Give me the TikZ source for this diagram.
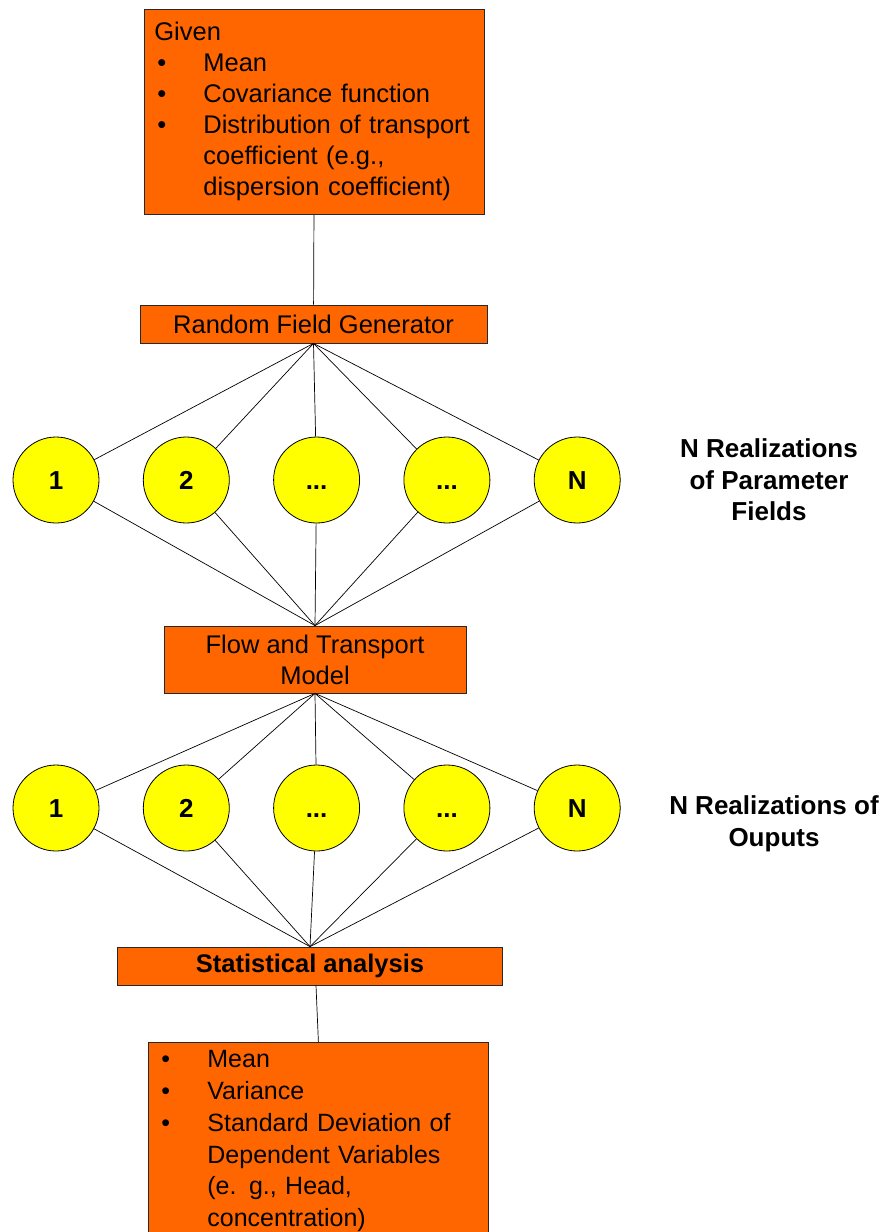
\documentclass[tikz,border=0pt]{standalone}
\usepackage{fontspec}
\setmainfont{Liberation Sans}
\usetikzlibrary{positioning}
\definecolor{BoxOrange}{RGB}{255,102,0}
\definecolor{RealYellow}{RGB}{255,255,0}
\definecolor{EdgeGray}{RGB}{40,40,40}
\newcommand{\bitem}[1]{\hspace*{3pt}\makebox[46pt][l]{\textbullet}#1}
\newcommand{\bcont}[1]{\hspace*{49pt}#1}
\tikzset{
  procbox/.style={draw=EdgeGray,fill=BoxOrange,line width=0.8pt,inner sep=0pt,align=center,font=\fontsize{25.5}{31}\selectfont},
  listbox/.style={draw=EdgeGray,fill=BoxOrange,line width=0.8pt,align=left,inner xsep=10pt,text width=320pt},
  realnode/.style={circle,draw=black,fill=RealYellow,line width=0.8pt,minimum size=86pt,inner sep=0pt,text height=18.7pt,text depth=0pt,font=\fontsize{26}{31}\selectfont\bfseries},
  sidelabel/.style={align=center,font=\fontsize{26}{31.5}\selectfont\bfseries},
  link/.style={draw=black,line width=0.7pt}
}
\begin{document}
\begin{tikzpicture}[x=1pt,y=-1pt,node distance=43.5pt]
\clip (0,0) rectangle (885,1232);
\node[listbox, anchor=north west, minimum height=205pt, font=\fontsize{25.5}{31}\selectfont] (given) at (144,9)
  {Given\\ \bitem{Mean}\\ \bitem{Covariance function}\\ \bitem{Distribution of transport}\\ \bcont{coefficient (e.g.,}\\ \bcont{dispersion coefficient)}};
\node[procbox, minimum width=347pt, minimum height=38pt] (rfg) at (313.5,324) {Random Field Generator};

% parameter field realizations
\node[realnode] (p1) at (56,480) {1};
\node[realnode, right=of p1] (p2) {2};
\node[realnode, right=of p2] (p3) {...};
\node[realnode, right=of p3] (p4) {...};
\node[realnode, right=of p4] (p5) {N};
\node[sidelabel] (plabel) at (769,480) {N Realizations\\of Parameter\\Fields};

\node[procbox, minimum width=302pt, minimum height=67pt] (flow) at (315,659.5) {Flow and Transport\\Model};

% output realizations
\node[realnode] (o1) at (56,808) {1};
\node[realnode, right=of o1] (o2) {2};
\node[realnode, right=of o2] (o3) {...};
\node[realnode, right=of o3] (o4) {...};
\node[realnode, right=of o4] (o5) {N};
\node[sidelabel] (olabel) at (774,824) {N Realizations of\\Ouputs};

\node[procbox, minimum width=385pt, minimum height=38pt, font=\fontsize{25.5}{31}\selectfont\bfseries] (stats) at (310,966) {Statistical analysis};
\node[listbox, anchor=north west, inner ysep=8pt, font=\fontsize{25}{31.8}\selectfont] (results) at (148,1042)
  {\bitem{Mean}\\ \bitem{Variance}\\ \bitem{Standard Deviation of}\\ \bcont{Dependent Variables}\\ \bcont{(e. g., Head,}\\ \bcont{concentration)}};

\draw[link] (given) -- (rfg);
\draw[link] (rfg.south) -- (p1);
\draw[link] (rfg.south) -- (p2);
\draw[link] (rfg.south) -- (p3);
\draw[link] (rfg.south) -- (p4);
\draw[link] (rfg.south) -- (p5);
\draw[link] (p1) -- (flow.north);
\draw[link] (p2) -- (flow.north);
\draw[link] (p3) -- (flow.north);
\draw[link] (p4) -- (flow.north);
\draw[link] (p5) -- (flow.north);
\draw[link] (flow.south) -- (o1);
\draw[link] (flow.south) -- (o2);
\draw[link] (flow.south) -- (o3);
\draw[link] (flow.south) -- (o4);
\draw[link] (flow.south) -- (o5);
\draw[link] (o1) -- (stats.north);
\draw[link] (o2) -- (stats.north);
\draw[link] (o3) -- (stats.north);
\draw[link] (o4) -- (stats.north);
\draw[link] (o5) -- (stats.north);
\draw[link] ([xshift=6pt]stats.south) -- (results.north);
\end{tikzpicture}
\end{document}
